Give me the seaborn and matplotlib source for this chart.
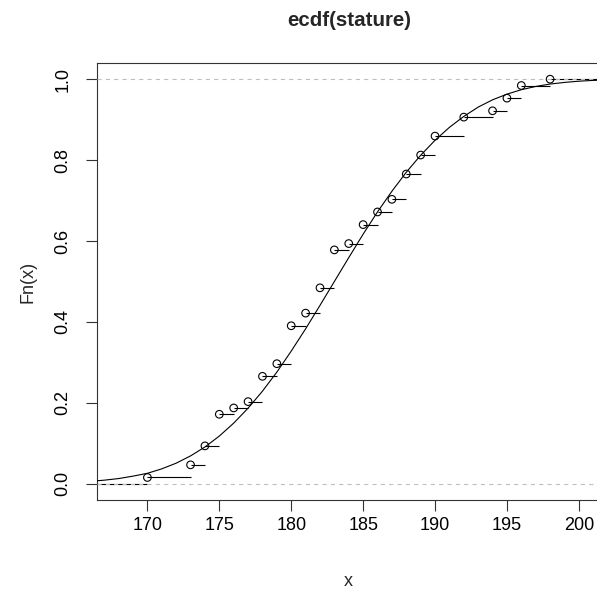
import numpy as np
import pandas as pd
import matplotlib
matplotlib.use("Agg")
import matplotlib.pyplot as plt
import seaborn as sns

# ecdf knots (stature values) and cumulative counts, n = 64
knots = [170, 173, 174, 175, 176, 177, 178, 179, 180, 181, 182, 183,
         184, 185, 186, 187, 188, 189, 190, 192, 194, 195, 196, 198]
cum_counts = [1, 3, 6, 11, 12, 13, 17, 19, 25, 27, 31, 37,
              38, 41, 43, 45, 49, 52, 55, 58, 59, 61, 63, 64]
n_obs = 64

# overlaid smooth cdf curve
curve_x = list(range(166, 203))
curve_y = [0.006, 0.009, 0.013, 0.019, 0.026, 0.037, 0.051, 0.069, 0.091,
           0.118, 0.150, 0.187, 0.229, 0.276, 0.328, 0.383, 0.441, 0.500,
           0.559, 0.617, 0.672, 0.723, 0.770, 0.812, 0.849, 0.881, 0.908,
           0.931, 0.949, 0.963, 0.974, 0.982, 0.988, 0.992, 0.995, 0.997,
           0.998]

xticks = [170, 175, 180, 185, 190, 195, 200]
yticks = [0.0, 0.2, 0.4, 0.6, 0.8, 1.0]
xlim = (166.46, 201.54)
ylim = (-0.04, 1.04)

sns.set_style("ticks")
plt.rcParams["font.family"] = ["Liberation Sans", "DejaVu Sans"]
plt.rcParams["lines.scale_dashes"] = False

fn = pd.DataFrame({"x": knots, "Fn": np.array(cum_counts) / n_obs})
curve = pd.DataFrame({"x": curve_x, "y": curve_y})

W, H = 597, 590
fig = plt.figure(figsize=(W / 100, H / 100), dpi=100)
ax = fig.add_axes([96.5 / W, 90 / H, (601 - 96.5) / W, 437 / H])

# step segments, then gray dashed reference lines at 0 and 1
seg_right = list(fn["x"][1:]) + [xlim[1] + 5]
ax.hlines(0, xlim[0] - 5, fn["x"].iloc[0], color="black", lw=0.8, zorder=2)
ax.hlines(fn["Fn"], fn["x"], seg_right, color="black", lw=0.8, zorder=2)
for h in (0, 1):
    ax.axhline(h, color="#bebebe", lw=0.8, dashes=(3, 3), zorder=3)

sns.lineplot(data=curve, x="x", y="y", ax=ax, color="black", lw=0.8,
             estimator=None, sort=True, zorder=4)
sns.scatterplot(data=fn, x="x", y="Fn", ax=ax, marker="o", s=30,
                facecolor="none", edgecolor="black", linewidth=0.8, zorder=5)

ax.set_xlim(*xlim)
ax.set_ylim(*ylim)
ax.set_xticks(xticks)
ax.set_xticklabels([str(t) for t in xticks])
ax.set_yticks(yticks)
ax.set_yticklabels([f"{t:.1f}" for t in yticks], rotation=90, va="center")
ax.tick_params(axis="both", length=8, width=0.8, color="#333333",
               labelsize=13, labelcolor="black")
ax.tick_params(axis="x", pad=4)
ax.tick_params(axis="y", pad=10)
for s in ax.spines.values():
    s.set_color("#333333")
    s.set_linewidth(0.8)

ax.set_xlabel("x", fontsize=13, labelpad=28)
ax.set_ylabel("Fn(x)", fontsize=13, labelpad=13)
ax.set_title("ecdf(stature)", fontsize=14.8, fontweight="bold", pad=27)

fig.savefig("out.png", dpi=100)
